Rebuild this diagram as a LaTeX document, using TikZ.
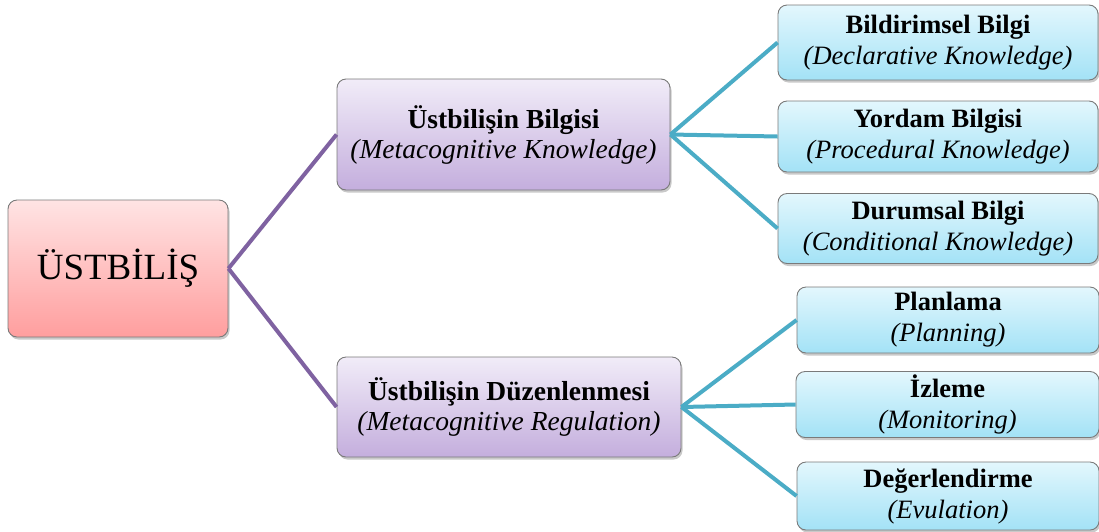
\documentclass[tikz,border=0pt]{standalone}
\usepackage{fontspec}
\setmainfont{Liberation Serif}
\usetikzlibrary{shadows}

\definecolor{rootTop}{HTML}{FFE4E4}
\definecolor{rootBot}{HTML}{FF9E9E}
\definecolor{midTop}{HTML}{F1ECF8}
\definecolor{midBot}{HTML}{C4AEDD}
\definecolor{leafTop}{HTML}{E3F7FD}
\definecolor{leafBot}{HTML}{A3E2F6}
\definecolor{edgeGray}{HTML}{7A7A7A}
\definecolor{regLine}{HTML}{7F62A1}
\definecolor{leafLine}{HTML}{4BACC6}

\tikzset{
  box/.style={rectangle, rounded corners=9pt, draw=edgeGray, line width=0.9pt,
    inner sep=0pt, align=center,
    drop shadow={shadow xshift=1.5pt, shadow yshift=-2.5pt, opacity=0.3, fill=black!70}},
  rootbox/.style={box, top color=rootTop, bottom color=rootBot,
    font=\fontsize{37}{40}\selectfont},
  midbox/.style={box, top color=midTop, bottom color=midBot,
    font=\fontsize{27.5}{30}\selectfont},
  leafbox/.style={box, top color=leafTop, bottom color=leafBot,
    font=\fontsize{26.5}{31}\selectfont},
  trunk/.style={draw=regLine, line width=4pt},
  branch/.style={draw=leafLine, line width=4pt},
}

\begin{document}
\begin{tikzpicture}[x=1pt, y=-1pt]
\useasboundingbox (0,0) rectangle (1099,531);

% root concept
\node[rootbox, minimum width=220pt, minimum height=137pt] (root) at (118,268.5) {ÜSTBİLİŞ};

% two main components
\node[midbox, minimum width=333pt, minimum height=111pt] (know) at (503.5,134.5)
  {\textbf{Üstbilişin Bilgisi}\\\textit{(Metacognitive Knowledge)}};
\node[midbox, minimum width=344pt, minimum height=100pt] (reg) at (509,407)
  {\textbf{Üstbilişin Düzenlenmesi}\\\textit{(Metacognitive Regulation)}};

% knowledge sub-components
\node[leafbox, minimum width=320pt, minimum height=75pt] (decl) at (938,42.5)
  {\textbf{Bildirimsel Bilgi}\\\textit{(Declarative Knowledge)}};
\node[leafbox, minimum width=320pt, minimum height=71pt] (proc) at (938,136.5)
  {\textbf{Yordam Bilgisi}\\\textit{(Procedural Knowledge)}};
\node[leafbox, minimum width=320pt, minimum height=70pt] (cond) at (938,228.5)
  {\textbf{Durumsal Bilgi}\\\textit{(Conditional Knowledge)}};

% regulation sub-components
\node[leafbox, minimum width=302pt, minimum height=66pt] (plan) at (948,320)
  {\textbf{Planlama}\\\textit{(Planning)}};
\node[leafbox, minimum width=303pt, minimum height=66pt] (mon) at (947.5,404.5)
  {\textbf{İzleme}\\\textit{(Monitoring)}};
\node[leafbox, minimum width=302pt, minimum height=68pt] (eval) at (948,496)
  {\textbf{Değerlendirme}\\\textit{(Evulation)}};

% connectors
\draw[trunk] (root.east) -- (know.west);
\draw[trunk] (root.east) -- (reg.west);

\draw[branch] (know.east) -- (decl.west);
\draw[branch] (know.east) -- (proc.west);
\draw[branch] (know.east) -- (cond.west);

\draw[branch] (reg.east) -- (plan.west);
\draw[branch] (reg.east) -- (mon.west);
\draw[branch] (reg.east) -- (eval.west);
\end{tikzpicture}
\end{document}
